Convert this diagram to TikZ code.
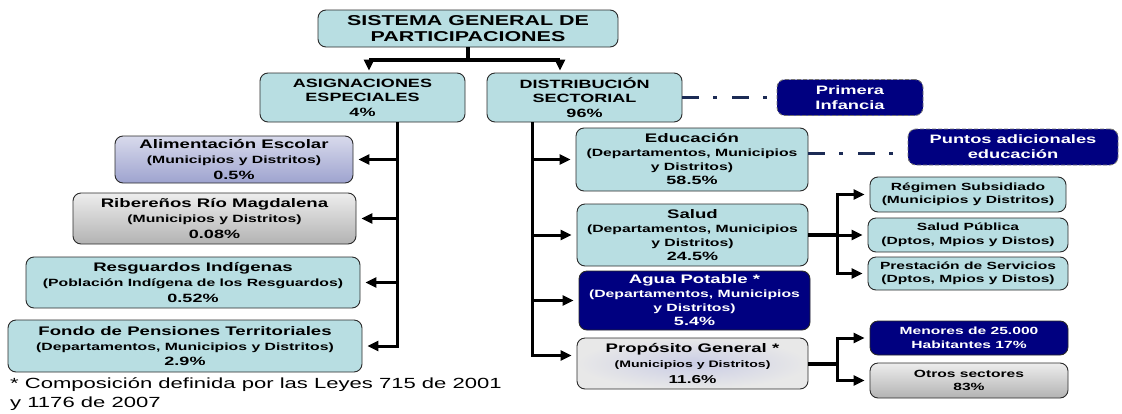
\documentclass[tikz,border=0pt]{standalone}
\usepackage{fontspec}
\setmainfont{Liberation Sans}[FakeStretch=1.5]
\usetikzlibrary{arrows.meta}

\definecolor{paleteal}{HTML}{B8DEE2}
\definecolor{navy}{HTML}{000080}
\definecolor{linkline}{HTML}{1C2B55}
\definecolor{edge}{HTML}{2A2A2A}
\definecolor{lilac}{HTML}{9EA3CF}

\newcommand\headfont{\fontsize{14.3}{15.5}\selectfont\bfseries}
\newcommand\branchfont{\fontsize{12}{14.5}\selectfont\bfseries}
\newcommand\ttlfont{\fontsize{12.4}{14}\selectfont}
\newcommand\subfont{\fontsize{10.5}{14}\selectfont}
\newcommand\pctfont{\fontsize{12}{14}\selectfont}
\newcommand\smallfont{\fontsize{10.4}{13.5}\selectfont\bfseries}
\newcommand\navyfont{\fontsize{12.2}{15}\selectfont\bfseries}
\newcommand\notefont{\fontsize{14.7}{19}\selectfont}

\tikzset{
  orgbox/.style={draw=edge, line width=0.9pt, rounded corners=8pt, align=center,
    inner sep=1pt, font=\subfont\bfseries},
  roomy/.style={font=\fontsize{10.5}{15.3}\selectfont\bfseries},
  tealbox/.style={orgbox, fill=paleteal},
  navybox/.style={orgbox, fill=navy, text=white},
  navydash/.style={navybox, draw=black!55, dash pattern=on 4pt off 2pt},
  lilacbox/.style={orgbox, top color=lilac!40!white, bottom color=lilac},
  greybox/.style={orgbox, top color=black!7, bottom color=black!30},
  mistbox/.style={orgbox, inner color=lilac!55, outer color=black!9},
  trunk/.style={draw=black, line width=4pt},
  feed/.style={draw=black, line width=3pt, -{Triangle[length=11pt,width=10pt]}, shorten >=5pt},
  sideline/.style={draw=linkline, line width=3pt, dash pattern=on 17pt off 14pt on 4pt off 15pt}
}

\begin{document}
\begin{tikzpicture}[x=1pt, y=-1pt]
  \useasboundingbox (0,0) rectangle (1122,413);

  % top levels
  \node[tealbox, minimum width=300pt, minimum height=37pt, font=\headfont] (sgp) at (468,28.5)
    {SISTEMA GENERAL DE\\PARTICIPACIONES};
  \node[tealbox, minimum width=205pt, minimum height=49pt, font=\branchfont] (asig) at (362.5,97.5)
    {ASIGNACIONES\\ESPECIALES\\4\%};
  \node[tealbox, minimum width=195pt, minimum height=49pt, font=\branchfont] (dist) at (584.5,97.5)
    {DISTRIBUCIÓN\\SECTORIAL\\96\%};
  \node[navydash, minimum width=146pt, minimum height=36pt, font=\navyfont] (prim) at (850,97.5)
    {Primera\\Infancia};

  % asignaciones especiales
  \node[lilacbox, roomy, minimum width=238pt, minimum height=47pt] (alim) at (234,159.5)
    {{\ttlfont Alimentación Escolar}\\(Municipios y Distritos)\\{\pctfont 0.5\%}};
  \node[greybox, roomy, minimum width=283pt, minimum height=51pt] (rib) at (214.5,218.5)
    {{\ttlfont Ribereños Río Magdalena}\\(Municipios y Distritos)\\{\pctfont 0.08\%}};
  \node[tealbox, roomy, minimum width=334pt, minimum height=51pt] (resg) at (193,282.5)
    {{\ttlfont Resguardos Indígenas}\\(Población Indígena de los Resguardos)\\{\pctfont 0.52\%}};
  \node[tealbox, roomy, minimum width=354pt, minimum height=52pt] (fondo) at (185,346)
    {{\ttlfont Fondo de Pensiones Territoriales}\\(Departamentos, Municipios y Distritos)\\{\pctfont 2.9\%}};

  % distribucion sectorial
  \node[tealbox, minimum width=232pt, minimum height=63pt] (edu) at (692,159.5)
    {{\ttlfont Educación}\\(Departamentos, Municipios\\y Distritos)\\{\pctfont 58.5\%}};
  \node[navydash, minimum width=210pt, minimum height=36pt, font=\navyfont] (puntos) at (1013,147)
    {Puntos adicionales\\educación};
  \node[tealbox, minimum width=231pt, minimum height=62pt] (salud) at (692.5,235)
    {{\ttlfont Salud}\\(Departamentos, Municipios\\y Distritos)\\{\pctfont 24.5\%}};
  \node[navybox, minimum width=231pt, minimum height=59pt] (agua) at (694.5,300.5)
    {{\ttlfont Agua Potable *}\\(Departamentos, Municipios\\y Distritos)\\{\pctfont 5.4\%}};
  \node[mistbox, roomy, minimum width=231pt, minimum height=51pt] (prop) at (692.5,363.5)
    {{\ttlfont Propósito General *}\\{\fontsize{9.4}{11}\selectfont (Municipios y Distritos)}\\{\fontsize{11.5}{13}\selectfont 11.6\%}};

  % salud y proposito general
  \node[tealbox, minimum width=196pt, minimum height=35pt, font=\smallfont] (reg) at (968,194.5)
    {Régimen Subsidiado\\(Municipios y Distritos)};
  \node[tealbox, minimum width=200pt, minimum height=34pt, font=\smallfont] (sp) at (968,235)
    {Salud Pública\\(Dptos, Mpios y Distos)};
  \node[tealbox, minimum width=200pt, minimum height=33pt, font=\smallfont] (prest) at (968,273.5)
    {Prestación de Servicios\\(Dptos, Mpios y Distos)};
  \node[navybox, minimum width=198pt, minimum height=34pt, font=\smallfont] (men) at (969,338)
    {Menores de 25.000\\Habitantes 17\%};
  \node[greybox, minimum width=198pt, minimum height=35pt, font=\smallfont] (otros) at (969,380.5)
    {Otros sectores\\83\%};

  \node[anchor=north west, inner sep=0pt, align=left, font=\notefont] (note) at (10,377)
    {* Composición definida por las Leyes 715 de 2001\\y 1176 de 2007};

  % connectors
  \coordinate (fork) at ([yshift=-13pt]sgp.south);
  \coordinate (asigin) at ([xshift=6.5pt]asig.north);
  \coordinate (distin) at ([xshift=-24.5pt]dist.north);
  \draw[trunk] (sgp.south) -- (fork);
  \draw[trunk] (asigin |- fork) -- (distin |- fork);
  \draw[feed, shorten >=2pt] (asigin |- fork) -- (asigin);
  \draw[feed, shorten >=2pt] (distin |- fork) -- (distin);

  \coordinate (lefttop) at ([xshift=34.5pt]asig.south);
  \draw[feed] (lefttop) |- (fondo.east);
  \foreach \n in {alim,rib,resg}
    \draw[feed] (lefttop |- \n.east) -- (\n.east);

  \coordinate (righttop) at ([xshift=-52.5pt]dist.south);
  \coordinate (propin) at ([yshift=8pt]prop.west);
  \draw[feed] (righttop) |- (propin);
  \foreach \n in {edu,salud,agua}
    \draw[feed] (righttop |- \n.west) -- (\n.west);

  \coordinate (saludfork) at ([xshift=29pt]salud.east);
  \draw[trunk] (salud.east) -- (saludfork);
  \draw[feed] (saludfork) |- (reg.west);
  \draw[feed] (saludfork) -- (sp.west);
  \draw[feed] (saludfork) |- (prest.west);

  \coordinate (propfork) at ([xshift=29pt]prop.east);
  \draw[trunk] (prop.east) -- (propfork);
  \draw[feed] (propfork) |- (men.west);
  \draw[feed] (propfork) |- (otros.west);

  \draw[sideline] (dist.east) -- (prim.west);
  \draw[sideline] ([yshift=6.5pt]edu.east) -- ([yshift=-6pt]puntos.west);
\end{tikzpicture}
\end{document}
